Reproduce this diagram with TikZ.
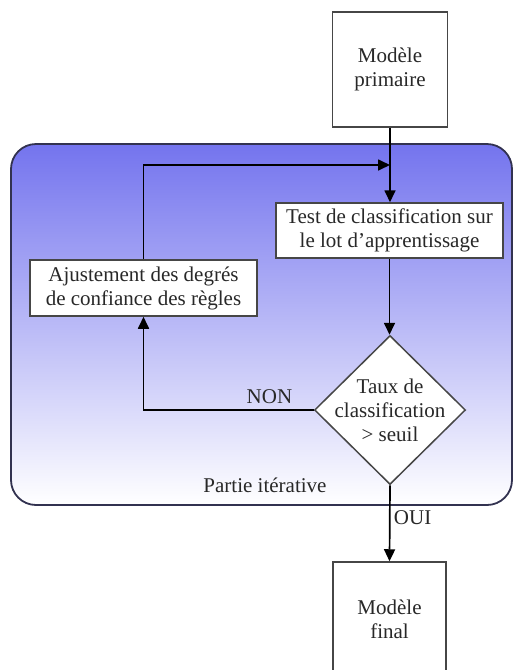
\documentclass[tikz,border=0pt]{standalone}
\usepackage{fontspec}
\setmainfont{Liberation Serif}
\usepackage{tikz}
\usetikzlibrary{shapes.geometric,arrows.meta,positioning,calc}
\definecolor{zoneblue}{RGB}{116,116,238}
\definecolor{zoneborder}{RGB}{50,50,80}
\definecolor{boxgray}{RGB}{70,70,70}
\definecolor{txtgray}{RGB}{40,40,40}

\begin{document}
\begin{tikzpicture}[x=1pt, y=-1pt,
    txt/.style={font=\fontsize{21}{24}\selectfont, text=txtgray},
    blk/.style={rectangle, draw=boxgray, fill=white, line width=1.5pt, align=center, inner sep=2pt, txt},
    decision/.style={diamond, draw=boxgray, fill=white, line width=1.5pt, inner sep=0pt,
                     minimum width=151pt, minimum height=149pt},
    flow/.style={line width=1.7pt, -{Triangle[length=12pt,width=11pt]}}
]
    \path[use as bounding box, clip] (0,0) rectangle (513,670);
    \draw[zoneborder, line width=1.8pt, rounded corners=25pt, top color=zoneblue, bottom color=white]
        (11,144) rectangle (512,505);

    \node[blk, minimum width=115pt, minimum height=115pt] (prim) at (390,69.5) {Modèle\\primaire};
    \node[blk, minimum width=227pt, minimum height=55pt] (test) at (389.5,230.5) {Test de classification sur\\le lot d’apprentissage};
    \node[blk, minimum width=227pt, minimum height=56pt] (ajust) at (143.5,288) {Ajustement des degrés\\de confiance des règles};
    \node[decision, label={[txt, align=center]center:Taux de\\classification\\> seuil}] (taux) at (390,410) {};
    \node[blk, minimum width=113pt, minimum height=115pt] (final) at (389.5,619.5) {Modèle\\final};
    \node[txt] (partie) at (265,485) {Partie itérative};
    \coordinate (merge) at (390,165);

    \draw[flow] (prim.south) -- (prim.south |- test.north);
    \draw[flow] (ajust.north) |- (merge);
    \draw[flow] (test.south) -- (test.south |- taux.north);
    \draw[flow] (taux.west) -| node[pos=0.13, above=2pt, txt] {NON} (ajust.south);
    \draw[flow] (taux.south) -- node[pos=0.42, right, txt] {OUI} (final.north);
\end{tikzpicture}
\end{document}
